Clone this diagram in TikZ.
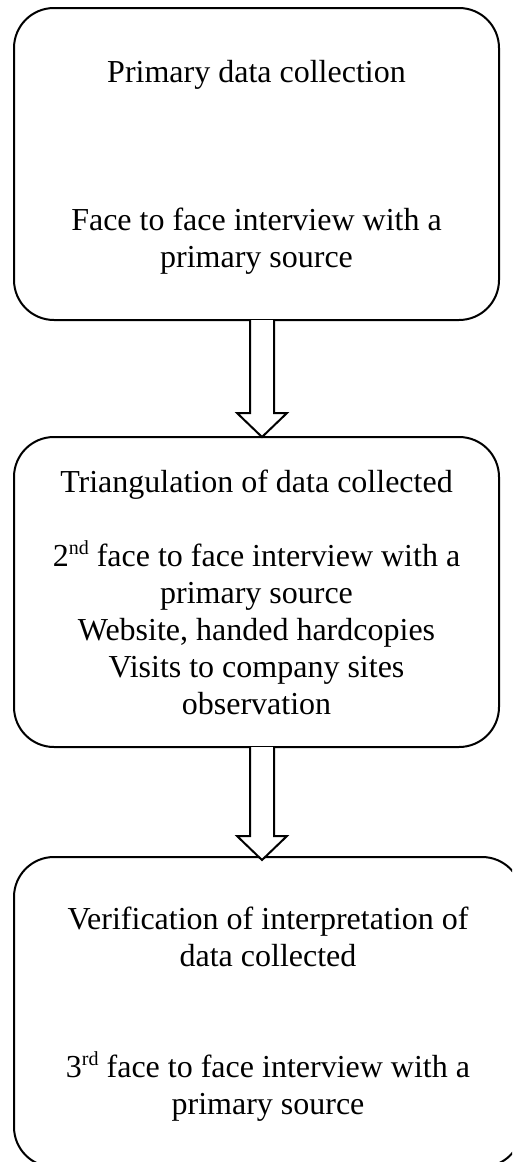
\documentclass[tikz,border=0pt]{standalone}
\usepackage{fontspec}
\setmainfont{Liberation Serif}
\usetikzlibrary{calc}

% ordinal suffix, set small and raised
\newcommand{\ordsup}[1]{\raisebox{12pt}{\fontsize{20}{20}\selectfont #1}}

\tikzset{
  stagebox/.style={draw=black, line width=2pt, rounded corners=40pt, fill=white,
    inner sep=0pt, outer sep=0pt},
  linetext/.style={anchor=base, inner sep=0pt,
    font=\fontsize{32}{37}\selectfont},
  hollowarrow/.style={draw=black, line width=2pt, fill=white, line join=miter},
}

\begin{document}
\begin{tikzpicture}[x=1pt, y=-1pt]
  \useasboundingbox (0,0) rectangle (512,1162);
  \clip (0,0) rectangle (512,1162);

  % the three stage boxes
  \node[stagebox, minimum width=485pt, minimum height=312pt] (b1) at (256.5,164) {};
  \node[stagebox, minimum width=485pt, minimum height=310pt] (b2) at (256.5,592) {};
  \node[stagebox, minimum width=508pt, minimum height=310pt] (b3) at (268,1012) {};

  % stage 1
  \node[linetext] (t11) at (256.5,82)  {Primary data collection};
  \node[linetext] (t12) at (256.5,230) {Face to face interview with a};
  \node[linetext] (t13) at (256.5,267) {primary source};

  % stage 2
  \node[linetext] (t21) at (256.5,492) {Triangulation of data collected};
  \node[linetext] (t22) at (256.5,566) {2\ordsup{nd} face to face interview with a};
  \node[linetext] (t23) at (256.5,603) {primary source};
  \node[linetext] (t24) at (256.5,640) {Website, handed hardcopies};
  \node[linetext] (t25) at (256.5,677) {Visits to company sites};
  \node[linetext] (t26) at (256.5,714) {observation};

  % stage 3
  \node[linetext] (t31) at (268,929)  {Verification of interpretation of};
  \node[linetext] (t32) at (268,966)  {data collected};
  \node[linetext] (t33) at (268,1077) {3\ordsup{rd} face to face interview with a};
  \node[linetext] (t34) at (268,1114) {primary source};

  % hollow block arrows between the stages
  \draw[hollowarrow]
    ($(b1.south)+(-6.5,0)$) -- ($(b2.north)+(-6.5,-24)$) -- ($(b2.north)+(-19.5,-24)$)
    -- ($(b2.north)+(5.5,0)$) -- ($(b2.north)+(30.5,-24)$) -- ($(b2.north)+(17.5,-24)$)
    -- ($(b1.south)+(17.5,0)$);
  \draw[hollowarrow]
    ($(b2.south)+(-6.5,0)$) -- ($(b3.north)+(-18,-21)$) -- ($(b3.north)+(-31,-21)$)
    -- ($(b3.north)+(-6,3)$) -- ($(b3.north)+(19,-21)$) -- ($(b3.north)+(6,-21)$)
    -- ($(b2.south)+(17.5,0)$);
\end{tikzpicture}
\end{document}
